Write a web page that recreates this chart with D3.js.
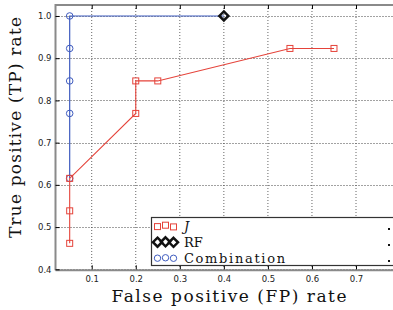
<!DOCTYPE html>
<html><head><meta charset="utf-8">
<script src="https://cdn.jsdelivr.net/npm/d3@7"></script>
<style>html,body{margin:0;padding:0;background:#fff;}svg{display:block;}</style>
</head><body>
<svg id="c" width="393" height="310"></svg>
<script>
// ---- data ----
const jFP = [0.05, 0.05, 0.05, 0.20, 0.20, 0.25, 0.55, 0.65];
const jTP = [0.4615, 0.5385, 0.6154, 0.7692, 0.8462, 0.8462, 0.9231, 0.9231];
const combFP = [0.05, 0.05, 0.05, 0.05, 0.05, 0.40];
const combTP = [0.6154, 0.7692, 0.8462, 0.9231, 1.0, 1.0];
const rfFP = [0.40];
const rfTP = [1.0];
const xTicks = [0.1, 0.2, 0.3, 0.4, 0.5, 0.6, 0.7];
const yTicks = [0.4, 0.5, 0.6, 0.7, 0.8, 0.9, 1.0];
const legendLabels = ["J", "RF", "Combination"];

const RED = "#e5433a", BLUE = "#3f5cbf", BLACK = "#111";
const SERIF = "DejaVu Serif";
const svg = d3.select("#c");
const x = d3.scaleLinear().domain([0.0178, 0.8]).range([55.5, 55.5 + 440.5 * (0.8 - 0.0178)]);
const y = d3.scaleLinear().domain([0.4, 1.026]).range([269.3, 5]);
const L = 55.5, R = 400, T = 5, B = 269.3;

// gridlines
const g = svg.append("g");
g.selectAll(".gx").data(xTicks).join("line")
  .attr("x1", d => x(d)).attr("x2", d => x(d)).attr("y1", T).attr("y2", B)
  .attr("stroke", "#666").attr("stroke-width", 1).attr("stroke-dasharray", "1,2");
g.selectAll(".gy").data(yTicks).join("line")
  .attr("y1", d => Math.round(y(d)) + 0.5).attr("y2", d => Math.round(y(d)) + 0.5).attr("x1", L).attr("x2", R)
  .attr("stroke", "#444").attr("stroke-width", 1).attr("stroke-dasharray", "1,2");

// frame
svg.append("line").attr("x1", L).attr("x2", R).attr("y1", T).attr("y2", T).attr("stroke", "#8a8a8a").attr("stroke-width", 2);
svg.append("line").attr("x1", L).attr("x2", L).attr("y1", T - 1).attr("y2", B + 1).attr("stroke", "#8a8a8a").attr("stroke-width", 2);
svg.append("line").attr("x1", L).attr("x2", R).attr("y1", B + 1).attr("y2", B + 1).attr("stroke", "#8a8a8a").attr("stroke-width", 2);

// axes (ticks inward, labels)
const xAxisB = d3.axisBottom(x).tickValues(xTicks).tickSize(-4).tickPadding(7).tickFormat(d3.format(".1f"));
const xAxisT = d3.axisTop(x).tickValues(xTicks).tickSize(-4).tickFormat("");
const yAxisL = d3.axisLeft(y).tickValues(yTicks).tickSize(-4).tickPadding(4).tickFormat(d3.format(".1f"));
function style(sel) {
  sel.select(".domain").remove();
  sel.selectAll(".tick line").attr("stroke", "#000").attr("stroke-width", 1);
  sel.selectAll(".tick text").attr("font-family", "DejaVu Sans").attr("font-size", 8.5).attr("fill", "#222");
}
svg.append("g").attr("transform", `translate(0,${B})`).call(xAxisB).call(style);
svg.append("g").attr("transform", `translate(0,${T})`).call(xAxisT).call(style);
svg.append("g").attr("transform", `translate(${L},0)`).call(yAxisL).call(style);

// series
const line = d3.line().x(d => x(d[0])).y(d => y(d[1]));
const comb = combFP.map((v, i) => [v, combTP[i]]);
const jPts = jFP.map((v, i) => [v, jTP[i]]);
const rf = rfFP.map((v, i) => [v, rfTP[i]]);

svg.append("path").datum(comb).attr("d", line).attr("fill", "none").attr("stroke", BLUE).attr("stroke-width", 1.2);
svg.selectAll(".cm").data(comb).join("circle").attr("cx", d => x(d[0])).attr("cy", d => y(d[1]))
  .attr("r", 3.3).attr("fill", "none").attr("stroke", BLUE).attr("stroke-width", 1);

svg.append("path").datum(jPts).attr("d", line).attr("fill", "none").attr("stroke", RED).attr("stroke-width", 1.1);
svg.selectAll(".jm").data(jPts).join("rect").attr("x", d => x(d[0]) - 3).attr("y", d => y(d[1]) - 3)
  .attr("width", 6).attr("height", 6).attr("fill", "none").attr("stroke", RED).attr("stroke-width", 1);

const diamond = (cx, cy, s) => `M${cx},${cy - s}L${cx + s},${cy}L${cx},${cy + s}L${cx - s},${cy}Z`;
svg.selectAll(".rm").data(rf).join("path").attr("d", d => diamond(x(d[0]), y(d[1]), 4.5))
  .attr("fill", "none").attr("stroke", BLACK).attr("stroke-width", 2.5);

// legend
const lg = svg.append("g");
lg.append("rect").attr("x", 151.5).attr("y", 217.5).attr("width", 260).attr("height", 48)
  .attr("fill", "#fff").attr("stroke", "#333").attr("stroke-width", 1.2);
const rowsY = [226, 242, 258];
const offs = [0.6, -0.8, 0.9];
const mx = [157.5, 165.5, 173.5];
mx.forEach((cx, k) => lg.append("rect").attr("x", cx - 3).attr("y", rowsY[0] + offs[k] - 3).attr("width", 6).attr("height", 6)
  .attr("fill", "none").attr("stroke", RED).attr("stroke-width", 1));
mx.forEach((cx, k) => lg.append("path").attr("d", diamond(cx, rowsY[1] + offs[k] * 0.3, 4.5))
  .attr("fill", "none").attr("stroke", BLACK).attr("stroke-width", 2.5));
mx.forEach((cx, k) => lg.append("circle").attr("cx", cx).attr("cy", rowsY[2] + offs[k] * 0.3).attr("r", 3.2)
  .attr("fill", "none").attr("stroke", BLUE).attr("stroke-width", 1));
const lw = [null, null, 101];
legendLabels.forEach((t, i) => {
  const tx = lg.append("text").attr("x", 184).attr("y", rowsY[i] + 5).text(t)
    .attr("font-family", SERIF).attr("font-size", 13).attr("fill", "#111");
  if (i === 0) tx.attr("font-style", "italic");
  if (lw[i]) tx.attr("textLength", lw[i]).attr("lengthAdjust", "spacing");
  lg.append("rect").attr("x", 388).attr("y", rowsY[i] + 2).attr("width", 2).attr("height", 2).attr("fill", "#111");
});

// axis titles
svg.append("text").attr("x", 229).attr("y", 302).attr("text-anchor", "middle")
  .attr("font-family", SERIF).attr("font-size", 17).attr("fill", "#111")
  .attr("textLength", 235).attr("lengthAdjust", "spacing").text("False positive (FP) rate");
svg.append("text").attr("transform", "translate(21,127.5) rotate(-90)").attr("text-anchor", "middle")
  .attr("font-family", SERIF).attr("font-size", 17).attr("fill", "#111")
  .attr("textLength", 221).attr("lengthAdjust", "spacing").text("True positive (TP) rate");
</script>
</body></html>
